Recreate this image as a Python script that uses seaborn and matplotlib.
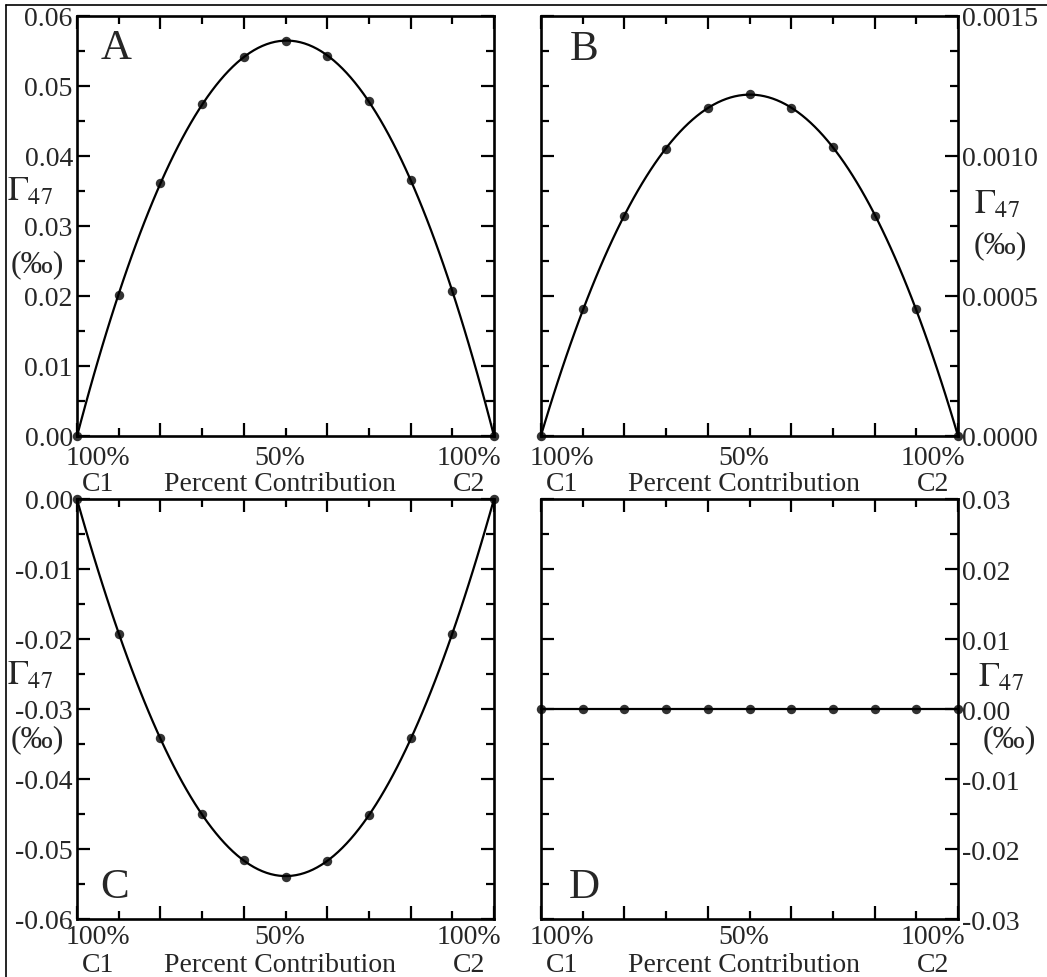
import numpy as np
import pandas as pd
import seaborn as sns
import matplotlib
matplotlib.use("Agg")
import matplotlib.pyplot as plt
from matplotlib.ticker import MultipleLocator, FormatStrFormatter
from matplotlib.lines import Line2D
from matplotlib.patches import Rectangle

# ---------------- data ----------------
fraction_c2 = [0.0, 0.1, 0.2, 0.3, 0.4, 0.5, 0.6, 0.7, 0.8, 0.9, 1.0]
gamma_a = [0.0, 0.0202, 0.0361, 0.0474, 0.0541, 0.0565, 0.0543, 0.0478, 0.0366, 0.0207, 0.0]
gamma_b = [0.0, 0.000452, 0.000787, 0.001024, 0.001172, 0.001222, 0.001172, 0.001033, 0.000787, 0.000452, 0.0]
gamma_c = [0.0, -0.0193, -0.0342, -0.0450, -0.0516, -0.0540, -0.0517, -0.0452, -0.0342, -0.0193, 0.0]
gamma_d = [0.0, 0.0, 0.0, 0.0, 0.0, 0.0, 0.0, 0.0, 0.0, 0.0, 0.0]
panel_letters = ["A", "B", "C", "D"]
x_labels_top = ["100%", "50%", "100%"]
x_labels_bottom = ["C1", "Percent Contribution", "C2"]

# ---------------- style ----------------
sns.set_style("white")
plt.rcParams["font.family"] = ["Liberation Serif", "DejaVu Serif"]
plt.rcParams["mathtext.fontset"] = "stix"
plt.rcParams["axes.unicode_minus"] = False

W, H = 1047, 978
fig = plt.figure(figsize=(W / 100, H / 100), dpi=100)

def rect(l, r, t, b):
    return [l / W, (H - b) / H, (r - l) / W, (b - t) / H]

ax_a = fig.add_axes(rect(77, 494, 17, 437))
ax_b = fig.add_axes(rect(541, 958, 17, 437))
ax_c = fig.add_axes(rect(77, 494, 500, 920))
ax_d = fig.add_axes(rect(541, 958, 500, 920))

# (axes, values, ylim, major, minor, fmt, label side, (gx, gy, px, py))
panels = [
    (ax_a, gamma_a, (0.0, 0.06), 0.01, 0.005, "%.2f", "left", (-0.113, 0.583, -0.094, 0.41)),
    (ax_b, gamma_b, (0.0, 0.0015), 0.0005, 0.000125, "%.4f", "right", (1.094, 0.553, 1.101, 0.455)),
    (ax_c, gamma_c, (-0.06, 0.0), 0.01, 0.005, "%.2f", "left", (-0.113, 0.581, -0.096, 0.43)),
    (ax_d, gamma_d, (-0.03, 0.03), 0.01, 0.005, "%.2f", "right", (1.103, 0.576, 1.122, 0.43)),
]
letter_pos = [(0.094, 0.924), (0.103, 0.921), (0.089, 0.076), (0.103, 0.076)]
xlab_y = [(0.067, 0.129), (0.067, 0.129), (0.058, 0.124), (0.058, 0.124)]

fs = 20
for i, (ax, vals, ylim, major, minor, fmt, side, lab) in enumerate(panels):
    df = pd.DataFrame({"fraction": fraction_c2, "gamma": vals})
    sns.regplot(data=df, x="fraction", y="gamma", ax=ax, order=4, ci=None,
                scatter_kws=dict(s=46, color="black", edgecolor="black",
                                 linewidths=0, zorder=5, clip_on=False),
                line_kws=dict(color="black", lw=1.6, zorder=4, clip_on=False))
    ax.set_xlim(0, 1)
    ax.set_ylim(*ylim)
    ax.set_xlabel("")
    ax.set_ylabel("")
    ax.xaxis.set_major_locator(MultipleLocator(0.2))
    ax.xaxis.set_minor_locator(MultipleLocator(0.1))
    ax.yaxis.set_major_locator(MultipleLocator(major))
    ax.yaxis.set_minor_locator(MultipleLocator(minor))
    ax.yaxis.set_major_formatter(FormatStrFormatter(fmt))
    for s in ax.spines.values():
        s.set_linewidth(1.9)
        s.set_color("black")
        s.set_visible(True)
    ax.tick_params(axis="both", which="both", direction="in", top=True, bottom=True,
                   left=True, right=True, color="black", width=1.6)
    ax.tick_params(axis="both", which="major", length=9.5)
    ax.tick_params(axis="both", which="minor", length=6)
    ax.tick_params(axis="x", labelbottom=False, labeltop=False)
    ax.tick_params(axis="y", labelsize=fs, pad=3,
                   labelleft=(side == "left"), labelright=(side == "right"))
    # x-axis composition labels
    y1, y2 = xlab_y[i]
    for xp, t1, t2 in zip([0.05, 0.487, 0.94], x_labels_top, x_labels_bottom):
        ax.text(xp, -y1, t1, transform=ax.transAxes, ha="center", va="baseline", fontsize=fs)
        ax.text(xp, -y2, t2, transform=ax.transAxes, ha="center", va="baseline", fontsize=fs)
    # y label
    gx, gy, px, py = lab
    ax.text(gx, gy, r"$\Gamma_{47}$", transform=ax.transAxes, ha="center", va="center", fontsize=25)
    ax.text(px, py, "(‰)", transform=ax.transAxes, ha="center", va="center", fontsize=23)
    # panel letter
    ax.text(letter_pos[i][0], letter_pos[i][1], panel_letters[i], transform=ax.transAxes,
            ha="center", va="center", fontsize=31)

# outer frame (cropped border)
fig.add_artist(Rectangle((0, (H - 6) / H), 1, 6 / H, transform=fig.transFigure,
                         facecolor="white", edgecolor="none", zorder=20))
fig.add_artist(Rectangle((0, 0), 6 / W, 1, transform=fig.transFigure,
                         facecolor="white", edgecolor="none", zorder=20))
fig.add_artist(Line2D([6 / W, 1], [(H - 6) / H, (H - 6) / H], transform=fig.transFigure,
                      color="black", lw=1.2, zorder=21))
fig.add_artist(Line2D([6 / W, 6 / W], [0, (H - 6) / H], transform=fig.transFigure,
                      color="black", lw=1.2, zorder=21))

fig.savefig("out.png", dpi=100, facecolor="white")
